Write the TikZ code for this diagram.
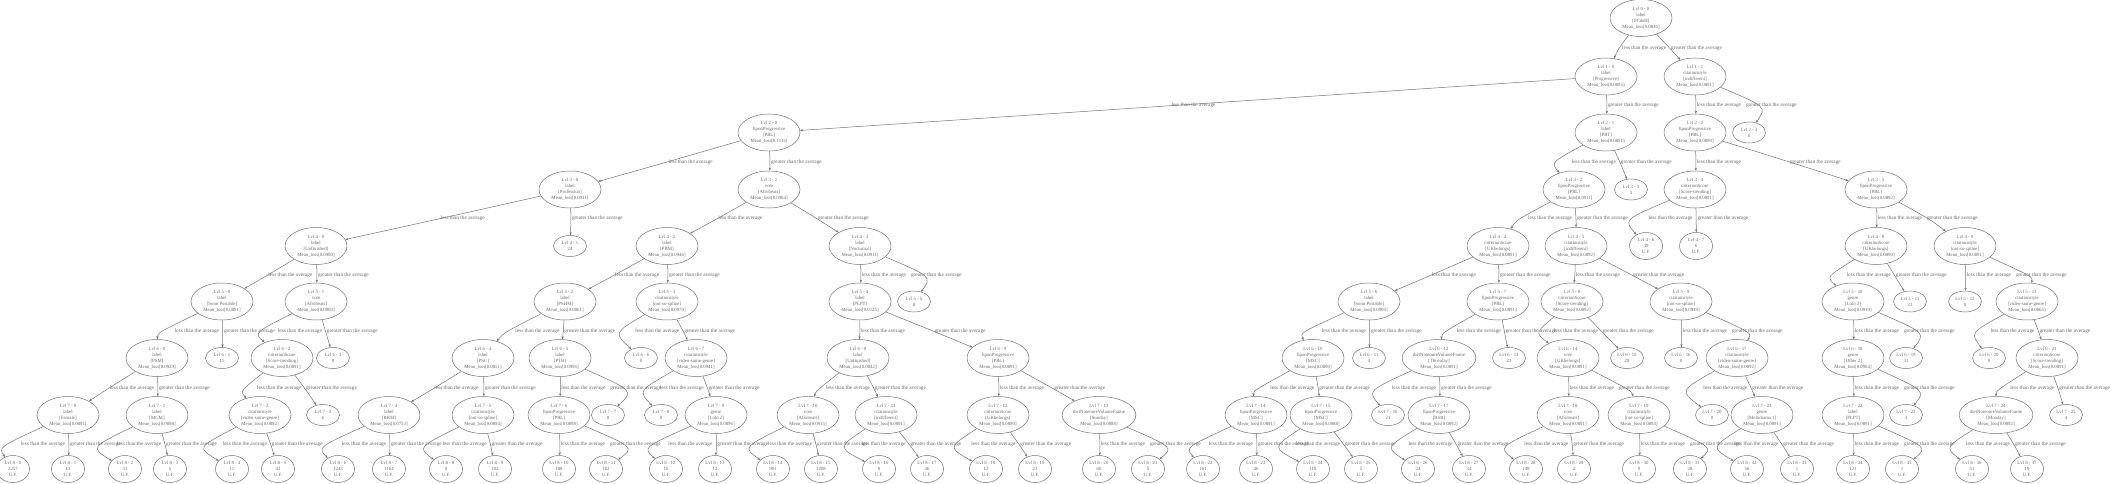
\documentclass[tikz,border=0pt]{standalone}
\usepackage{fontspec}
\setmainfont{Liberation Serif}
\usetikzlibrary{shapes.geometric,arrows.meta}
\newcommand{\elabfont}{\fontsize{5.3}{6}\selectfont}
\tikzset{
 base/.style={ellipse, draw=black!55, line width=0.5pt, inner sep=0pt, align=center, text=black!60, font=\fontsize{4.8}{6}\selectfont},
 inode/.style={base, minimum width=62pt, minimum height=37pt},
 leafn/.style={base, minimum width=33pt, minimum height=21pt},
 ufleaf/.style={base, minimum width=33pt, minimum height=27pt},
 edg/.style={draw=black!55, line width=0.5pt, -{Stealth[length=3pt,width=2.4pt]}},
 elab/.style={anchor=west, inner sep=0.8pt, text=black!60, font=\elabfont},
}
\newcommand{\inn}[7]{\node[inode] (#1) at (#2,#3) {Lvl #4\\#5\\{[#6]}\\Mean\_loss{[#7]}};}
\newcommand{\lfn}[5]{\node[leafn] (#1) at (#2,#3) {Lvl #4\\#5};}
\newcommand{\ufn}[5]{\node[ufleaf] (#1) at (#2,#3) {Lvl #4\\#5\\U.F.};}
\newcommand{\wL}{46}
% #1 parent, #2 less child, #3 greater child, #4 label row y (px from top)
\newcommand{\pair}[4]{%
 \pgfpointanchor{#1}{center}\pgfgetlastxy{\tpx}{\tpy}%
 \pgfpointanchor{#2}{center}\pgfgetlastxy{\tlx}{\tly}%
 \pgfpointanchor{#3}{center}\pgfgetlastxy{\tgx}{\tgy}%
 \pgfmathsetmacro{\tyl}{-#4}%
 \pgfmathsetmacro{\tfl}{(\tyl-\tpy)/(\tly-\tpy)}%
 \pgfmathsetmacro{\tfg}{(\tyl-\tpy)/(\tgy-\tpy)}%
 \pgfmathsetmacro{\txL}{\tpx+(\tlx-\tpx)*\tfl}%
 \pgfmathsetmacro{\txG}{\tpx+(\tgx-\tpx)*\tfg}%
 \pgfmathsetmacro{\tdl}{abs(\tlx-\tpx)}%
 \pgfmathsetmacro{\tgW}{\tdl<3 ? max(\txG+1,\txL+1+\wL+3) : \txG+1}%
 \pgfmathsetmacro{\tlW}{\tdl<3 ? \txL+1 : min(\txL+1,\txG+1-\wL-3)}%
 \node[elab] (lab#2) at (\tlW pt,\tyl pt) {less than the average};
 \node[elab] (lab#3) at (\tgW pt,\tyl pt) {greater than the average};
 \pgfmathsetmacro{\tmx}{2*(\tlW-0.5)-0.5*\tpx-0.5*\tlx}%
 \pgfmathsetmacro{\tmy}{2*\tyl-0.5*\tpy-0.5*\tly}%
 \draw[edg] (#1) .. controls (\tmx pt,\tmy pt) .. (#2);
 \pgfmathsetmacro{\tmx}{2*(\tgW-0.5)-0.5*\tpx-0.5*\tgx}%
 \pgfmathsetmacro{\tmy}{2*\tyl-0.5*\tpy-0.5*\tgy}%
 \draw[edg] (#1) .. controls (\tmx pt,\tmy pt) .. (#3);
}
\begin{document}
\begin{tikzpicture}[x=1pt,y=-1pt]
\useasboundingbox (0,0) rectangle (2112,484);
% level 0-2
\inn{a00}{1641}{18}{0 - 0}{label}{PCdeH}{0.0836}
\inn{a10}{1606}{76.5}{1 - 0}{label}{Progressive}{0.0895}
\inn{a11}{1695}{76.5}{1 - 1}{citationstyle}{indifferent}{0.0891}
\inn{a20}{769}{132.5}{2 - 0}{fiponProgressive}{PBL}{0.1112}
\inn{a21}{1606}{132.5}{2 - 1}{label}{PBT}{0.0891}
\inn{a22}{1695}{132.5}{2 - 2}{fiponProgressive}{PBL}{0.0890}
\lfn{a23}{1749}{132.5}{2 - 3}{6}
% level 3
\inn{a30}{570}{189.5}{3 - 0}{label}{Profession}{0.0911}
\inn{a31}{769}{189.5}{3 - 1}{vote}{Afrobeats}{0.0904}
\inn{a32}{1574}{189.5}{3 - 2}{fiponProgressive}{PBL}{0.0911}
\lfn{a33}{1631}{189.5}{3 - 3}{3}
\inn{a34}{1695}{189.5}{3 - 4}{criterionScore}{Score-trending}{0.0891}
\inn{a35}{1876}{189.5}{3 - 5}{fiponProgressive}{PBL}{0.0892}
% level 4
\inn{a40}{316}{246}{4 - 0}{label}{Unfinished}{0.0900}
\lfn{a41}{570}{246}{4 - 1}{24}
\inn{a42}{667}{246}{4 - 2}{label}{PBM}{0.0946}
\inn{a43}{860}{246}{4 - 3}{label}{Nocturnal}{0.0911}
\inn{a44}{1498}{246}{4 - 4}{criterionScore}{UKbelongs}{0.0891}
\inn{a45}{1576}{246}{4 - 5}{citationstyle}{indifferent}{0.0892}
\ufn{a46}{1646}{246}{4 - 6}{49}
\ufn{a47}{1696}{246}{4 - 7}{6}
\inn{a48}{1876}{246}{4 - 8}{criterionScore}{UKbelongs}{0.0890}
\inn{a49}{1965}{246}{4 - 9}{citationstyle}{not-so-spline}{0.0891}
% level 5
\inn{a50}{222}{301.5}{5 - 0}{label}{Soon Portable}{0.0891}
\inn{a51}{316}{301.5}{5 - 1}{vote}{Afrobeats}{0.0900}
\inn{a52}{565}{301.5}{5 - 2}{label}{PSHM}{0.0861}
\inn{a53}{667}{301.5}{5 - 3}{citationstyle}{not-so-spline}{0.0970}
\inn{a54}{860}{301.5}{5 - 4}{label}{PLPT}{0.0125}
\lfn{a55}{914}{301.5}{5 - 5}{8}
\inn{a56}{1369}{301.5}{5 - 6}{label}{Soon Portable}{0.0900}
\inn{a57}{1498}{301.5}{5 - 7}{fiponProgressive}{PBL}{0.0891}
\inn{a58}{1572}{301.5}{5 - 8}{criterionScore}{Score-trending}{0.0892}
\inn{a59}{1681}{301.5}{5 - 9}{citationstyle}{not-so-spline}{0.0919}
\inn{a510}{1853}{301.5}{5 - 10}{genre}{Lolo 2}{0.0919}
\lfn{a511}{1910}{301.5}{5 - 11}{23}
\lfn{a512}{1965}{301.5}{5 - 12}{0}
\inn{a513}{2027}{301.5}{5 - 13}{citationstyle}{video-some-genre}{0.0865}
% level 6
\inn{a60}{157}{358}{6 - 0}{label}{PSM}{0.0929}
\lfn{a61}{222}{358}{6 - 1}{11}
\inn{a62}{282}{358}{6 - 2}{criterionScore}{Score-trending}{0.0891}
\lfn{a63}{333}{358}{6 - 3}{8}
\inn{a64}{483}{358}{6 - 4}{label}{PSC}{0.0851}
\inn{a65}{560}{358}{6 - 5}{label}{PTB}{0.0996}
\lfn{a66}{641}{358}{6 - 6}{0}
\inn{a67}{696}{358}{6 - 7}{citationstyle}{video-some-genre}{0.0941}
\inn{a68}{858}{358}{6 - 8}{label}{Unfinished}{0.0842}
\inn{a69}{998}{358}{6 - 9}{fiponProgressive}{PBL}{0.0891}
\inn{a610}{1313}{358}{6 - 10}{fiponProgressive}{MSC}{0.0890}
\lfn{a611}{1369}{358}{6 - 11}{4}
\inn{a612}{1439}{358}{6 - 12}{dietNoteonreVolumeFrame}{Thursday}{0.0891}
\lfn{a613}{1509}{358}{6 - 13}{23}
\inn{a614}{1568}{358}{6 - 14}{vote}{UKbelongs}{0.0891}
\lfn{a615}{1627}{358}{6 - 15}{28}
\lfn{a616}{1681}{358}{6 - 16}{0}
\inn{a617}{1737}{358}{6 - 17}{citationstyle}{video-some-genre}{0.0892}
\inn{a618}{1853}{358}{6 - 18}{genre}{Other 2}{0.0904}
\lfn{a619}{1906}{358}{6 - 19}{31}
\lfn{a620}{1989}{358}{6 - 20}{0}
\inn{a621}{2047}{358}{6 - 21}{criterionScore}{Score-trending}{0.0891}
% level 7
\inn{a70}{68}{415}{7 - 0}{label}{Female}{0.0891}
\inn{a71}{157}{415}{7 - 1}{label}{MGM}{0.0898}
\inn{a72}{260}{415}{7 - 2}{citationstyle}{video-some-genre}{0.0892}
\lfn{a73}{323}{415}{7 - 3}{6}
\inn{a74}{389}{415}{7 - 4}{label}{BRM}{0.0753}
\inn{a75}{483}{415}{7 - 5}{citationstyle}{not-so-spline}{0.0894}
\inn{a76}{559}{415}{7 - 6}{fiponProgressive}{PBL}{0.0898}
\lfn{a77}{608}{415}{7 - 7}{8}
\lfn{a78}{661}{415}{7 - 8}{0}
\inn{a79}{716}{415}{7 - 9}{genre}{Lolo 2}{0.0896}
\inn{a710}{808}{415}{7 - 10}{vote}{Afrobeats}{0.0915}
\inn{a711}{886}{415}{7 - 11}{citationstyle}{indifferent}{0.0891}
\inn{a712}{998}{415}{7 - 12}{criterionScore}{UKbelongs}{0.0890}
\inn{a713}{1099}{415}{7 - 13}{dietNoteonreVolumeFrame}{Sunday}{0.0888}
\inn{a714}{1256}{415}{7 - 14}{fiponProgressive}{MSC}{0.0891}
\inn{a715}{1321}{415}{7 - 15}{fiponProgressive}{MSC}{0.0888}
\lfn{a716}{1388}{415}{7 - 16}{21}
\inn{a717}{1439}{415}{7 - 17}{fiponProgressive}{RSB}{0.0892}
\inn{a718}{1568}{415}{7 - 18}{vote}{Afrobeats}{0.0891}
\inn{a719}{1639}{415}{7 - 19}{citationstyle}{not-so-spline}{0.0893}
\lfn{a720}{1712}{415}{7 - 20}{0}
\inn{a721}{1762}{415}{7 - 21}{genre}{Melodrama 1}{0.0891}
\inn{a722}{1853}{415}{7 - 22}{label}{PLPT}{0.0891}
\lfn{a723}{1906}{415}{7 - 23}{3}
\inn{a724}{1996}{415}{7 - 24}{dietNoteonreVolumeFrame}{Monday}{0.0892}
\lfn{a725}{2066}{415}{7 - 25}{4}
% level 8
\ufn{a80}{13}{469}{8 - 0}{2257}
\ufn{a81}{68}{469}{8 - 1}{13}
\ufn{a82}{125}{469}{8 - 2}{53}
\ufn{a83}{170}{469}{8 - 3}{5}
\ufn{a84}{232}{469}{8 - 4}{11}
\ufn{a85}{278}{469}{8 - 5}{41}
\ufn{a86}{338}{469}{8 - 6}{1243}
\ufn{a87}{389}{469}{8 - 7}{1164}
\ufn{a88}{446}{469}{8 - 8}{0}
\ufn{a89}{495}{469}{8 - 9}{102}
\ufn{a810}{559}{469}{8 - 10}{188}
\ufn{a811}{606}{469}{8 - 11}{102}
\ufn{a812}{666}{469}{8 - 12}{16}
\ufn{a813}{715}{469}{8 - 13}{12}
\ufn{a814}{773}{469}{8 - 14}{901}
\ufn{a815}{821}{469}{8 - 15}{1288}
\ufn{a816}{879}{469}{8 - 16}{8}
\ufn{a817}{927}{469}{8 - 17}{46}
\ufn{a818}{986}{469}{8 - 18}{12}
\ufn{a819}{1035}{469}{8 - 19}{21}
\ufn{a820}{1099}{469}{8 - 20}{60}
\ufn{a821}{1148}{469}{8 - 21}{5}
\ufn{a822}{1203}{469}{8 - 22}{161}
\ufn{a823}{1256}{469}{8 - 23}{46}
\ufn{a824}{1313}{469}{8 - 24}{118}
\ufn{a825}{1361}{469}{8 - 25}{5}
\ufn{a826}{1418}{469}{8 - 26}{24}
\ufn{a827}{1469}{469}{8 - 27}{34}
\ufn{a828}{1526}{469}{8 - 28}{149}
\ufn{a829}{1574}{469}{8 - 29}{2}
\ufn{a830}{1639}{469}{8 - 30}{0}
\ufn{a831}{1690}{469}{8 - 31}{28}
\ufn{a832}{1747}{469}{8 - 32}{56}
\ufn{a833}{1797}{469}{8 - 33}{1}
\ufn{a834}{1853}{469}{8 - 34}{121}
\ufn{a835}{1902}{469}{8 - 35}{1}
\ufn{a836}{1972}{469}{8 - 36}{51}
\ufn{a837}{2027}{469}{8 - 37}{19}
% edges with labels
\pair{a00}{a10}{a11}{48.5}
\pair{a10}{a20}{a21}{105.7}
\pair{a11}{a22}{a23}{105.7}
\pair{a20}{a30}{a31}{161.8}
\pair{a21}{a32}{a33}{161.8}
\pair{a22}{a34}{a35}{161.8}
\pair{a30}{a40}{a41}{218.7}
\pair{a31}{a42}{a43}{218.7}
\pair{a32}{a44}{a45}{218.7}
\pair{a34}{a46}{a47}{218.7}
\pair{a35}{a48}{a49}{218.7}
\pair{a40}{a50}{a51}{275.3}
\pair{a42}{a52}{a53}{275.3}
\pair{a43}{a54}{a55}{275.3}
\pair{a44}{a56}{a57}{275.3}
\pair{a45}{a58}{a59}{275.3}
\pair{a48}{a510}{a511}{275.3}
\pair{a49}{a512}{a513}{275.3}
\pair{a50}{a60}{a61}{331.3}
\pair{a51}{a62}{a63}{331.3}
\pair{a52}{a64}{a65}{331.3}
\pair{a53}{a66}{a67}{331.3}
\pair{a54}{a68}{a69}{331.3}
\pair{a56}{a610}{a611}{331.3}
\pair{a57}{a612}{a613}{331.3}
\pair{a58}{a614}{a615}{331.3}
\pair{a59}{a616}{a617}{331.3}
\pair{a510}{a618}{a619}{331.3}
\pair{a513}{a620}{a621}{331.3}
\pair{a60}{a70}{a71}{388.7}
\pair{a62}{a72}{a73}{388.7}
\pair{a64}{a74}{a75}{388.7}
\pair{a65}{a76}{a77}{388.7}
\pair{a67}{a78}{a79}{388.7}
\pair{a68}{a710}{a711}{388.7}
\pair{a69}{a712}{a713}{388.7}
\pair{a610}{a714}{a715}{388.7}
\pair{a612}{a716}{a717}{388.7}
\pair{a614}{a718}{a719}{388.7}
\pair{a617}{a720}{a721}{388.7}
\pair{a618}{a722}{a723}{388.7}
\pair{a621}{a724}{a725}{388.7}
\pair{a70}{a80}{a81}{444.7}
\pair{a71}{a82}{a83}{444.7}
\pair{a72}{a84}{a85}{444.7}
\pair{a74}{a86}{a87}{444.7}
\pair{a75}{a88}{a89}{444.7}
\pair{a76}{a810}{a811}{444.7}
\pair{a79}{a812}{a813}{444.7}
\pair{a710}{a814}{a815}{444.7}
\pair{a711}{a816}{a817}{444.7}
\pair{a712}{a818}{a819}{444.7}
\pair{a713}{a820}{a821}{444.7}
\pair{a714}{a822}{a823}{444.7}
\pair{a715}{a824}{a825}{444.7}
\pair{a717}{a826}{a827}{444.7}
\pair{a718}{a828}{a829}{444.7}
\pair{a719}{a830}{a831}{444.7}
\pair{a721}{a832}{a833}{444.7}
\pair{a722}{a834}{a835}{444.7}
\pair{a724}{a836}{a837}{444.7}
\end{tikzpicture}
\end{document}
